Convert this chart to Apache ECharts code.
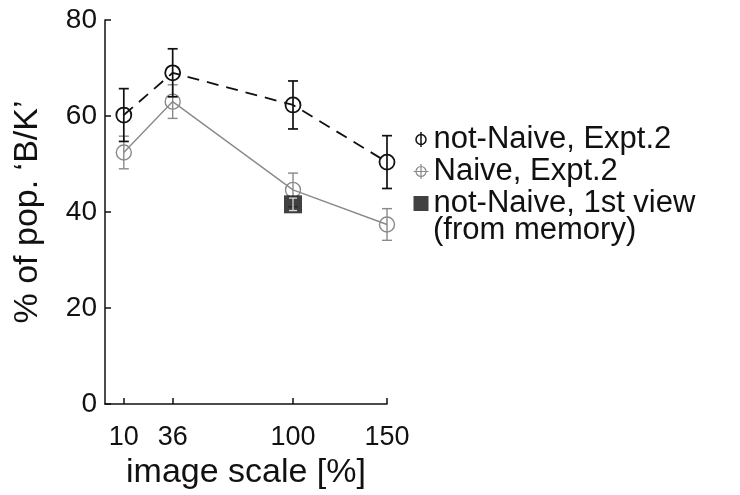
<!DOCTYPE html>
<html>
<head>
<meta charset="utf-8">
<script src="https://cdn.jsdelivr.net/npm/echarts@6/dist/echarts.min.js"></script>
<style>
  html, body { margin: 0; padding: 0; background: #fff; }
  #chart { width: 740px; height: 495px; }
</style>
</head>
<body>
<div id="chart"></div>
<script>
// image scale (%) at which each condition was tested
const scales = [10, 36, 100, 150];
const xTicks = [10, 36, 100, 150];
const yTicks = [0, 20, 40, 60, 80];

// % of population answering 'B/K', with half-widths of the error bars
const notNaiveMean = [60.2, 69.0, 62.3, 50.4];
const notNaiveErr  = [5.5, 5.0, 5.0, 5.5];
const naiveMean    = [52.4, 63.0, 44.6, 37.4];
const naiveErr     = [3.4, 3.5, 3.5, 3.3];
const firstViewScale = [100];
const firstViewMean  = [41.6];
const firstViewErr   = [1.3];

const FONT = 'Liberation Sans, Arial, Helvetica, sans-serif';
const INK = '#111';
const GRAY = '#8a8a8a';

function pairs(xs, ys) { return xs.map((x, i) => [x, ys[i]]); }
function errRows(xs, ys, es) { return xs.map((x, i) => [x, ys[i] - es[i], ys[i] + es[i]]); }

// vertical error bar with short caps, placed through the axis scales
function errorBar(color, width, cap) {
  return function (params, api) {
    const x = api.value(0);
    const lo = api.coord([x, api.value(1)]);
    const hi = api.coord([x, api.value(2)]);
    const style = { stroke: color, lineWidth: width, fill: null };
    return {
      type: 'group',
      children: [
        { type: 'line', shape: { x1: lo[0], y1: lo[1], x2: hi[0], y2: hi[1] }, style },
        { type: 'line', shape: { x1: lo[0] - cap, y1: lo[1], x2: lo[0] + cap, y2: lo[1] }, style },
        { type: 'line', shape: { x1: hi[0] - cap, y1: hi[1], x2: hi[0] + cap, y2: hi[1] }, style }
      ]
    };
  };
}

const LEGEND_LEFT = 411;
const LEGEND_TOP = 124;
const LEGEND_FONT = 31;

const chart = echarts.init(document.getElementById('chart'), null, { renderer: 'canvas' });

chart.setOption({
  animation: false,
  backgroundColor: '#fff',
  grid: { left: 105, right: 353, top: 20, bottom: 82 },
  xAxis: {
    type: 'value', min: 0, max: 150,
    name: 'image scale [%]', nameLocation: 'middle', nameGap: 52,
    nameTextStyle: { fontFamily: FONT, fontSize: 34, color: INK },
    axisLine: { show: true, lineStyle: { color: INK, width: 1.5 } },
    axisTick: { show: true, inside: true, length: 6, customValues: xTicks, lineStyle: { color: INK, width: 1.5 } },
    axisLabel: { customValues: xTicks, fontFamily: FONT, fontSize: 27, color: INK, margin: 20 },
    splitLine: { show: false }
  },
  yAxis: {
    type: 'value', min: 0, max: 80, interval: 20,
    name: "% of pop. \u2018B/K\u2019", nameLocation: 'middle', nameGap: 60,
    nameTextStyle: { fontFamily: FONT, fontSize: 34, color: INK },
    axisLine: { show: true, lineStyle: { color: INK, width: 1.5 } },
    axisTick: { show: true, inside: true, length: 6, lineStyle: { color: INK, width: 1.5 } },
    axisLabel: { fontFamily: FONT, fontSize: 28, color: INK, margin: 8,
                 formatter: v => (yTicks.indexOf(v) >= 0 ? String(v) : '') },
    splitLine: { show: false }
  },
  legend: {
    orient: 'vertical', left: LEGEND_LEFT, top: LEGEND_TOP, padding: 0,
    itemWidth: 15, itemHeight: 15, itemGap: 1,
    textStyle: { fontFamily: FONT, fontSize: LEGEND_FONT, color: INK },
    data: [
      { name: 'not-Naive, Expt.2',
        icon: 'path://M0,-6A6,6,0,1,1,0,6A6,6,0,1,1,0,-6ZM0,-9L0,9',
        itemStyle: { color: 'none', borderColor: INK, borderWidth: 1.5 } },
      { name: 'Naive, Expt.2',
        icon: 'path://M0,-6A6,6,0,1,1,0,6A6,6,0,1,1,0,-6ZM0,-9L0,9M-9,0L9,0',
        itemStyle: { color: 'none', borderColor: GRAY, borderWidth: 1.2 } },
      { name: 'not-Naive, 1st view', icon: 'rect',
        itemStyle: { color: INK } }
    ]
  },
  // second line of the third legend entry
  graphic: [{
    type: 'text', left: LEGEND_LEFT + 22, top: LEGEND_TOP + 91,
    style: { text: '(from memory)', font: LEGEND_FONT + 'px ' + FONT, fill: INK }
  }],
  series: [
    {
      name: 'not-Naive, Expt.2', type: 'line',
      data: pairs(scales, notNaiveMean),
      symbol: 'circle', symbolSize: 15,
      lineStyle: { color: INK, width: 1.8, type: [12, 8] },
      itemStyle: { color: 'rgba(0,0,0,0)', borderColor: INK, borderWidth: 1.8 },
      z: 3
    },
    {
      name: 'notNaiveErr', type: 'custom',
      data: errRows(scales, notNaiveMean, notNaiveErr),
      renderItem: errorBar(INK, 1.7, 5),
      encode: { x: 0, y: [1, 2] }, z: 3
    },
    {
      name: 'Naive, Expt.2', type: 'line',
      data: pairs(scales, naiveMean),
      symbol: 'circle', symbolSize: 15,
      lineStyle: { color: GRAY, width: 1.4 },
      itemStyle: { color: 'rgba(0,0,0,0)', borderColor: GRAY, borderWidth: 1.4 },
      z: 2
    },
    {
      name: 'naiveErr', type: 'custom',
      data: errRows(scales, naiveMean, naiveErr),
      renderItem: errorBar(GRAY, 1.4, 5),
      encode: { x: 0, y: [1, 2] }, z: 2
    },
    {
      name: 'not-Naive, 1st view', type: 'scatter',
      data: pairs(firstViewScale, firstViewMean),
      symbol: 'rect', symbolSize: 18,
      itemStyle: { color: INK }, z: 4
    },
    {
      name: 'firstViewErr', type: 'custom',
      data: errRows(firstViewScale, firstViewMean, firstViewErr),
      renderItem: errorBar('#ddd', 1.3, 4),
      encode: { x: 0, y: [1, 2] }, z: 5
    }
  ]
});
</script>
</body>
</html>
